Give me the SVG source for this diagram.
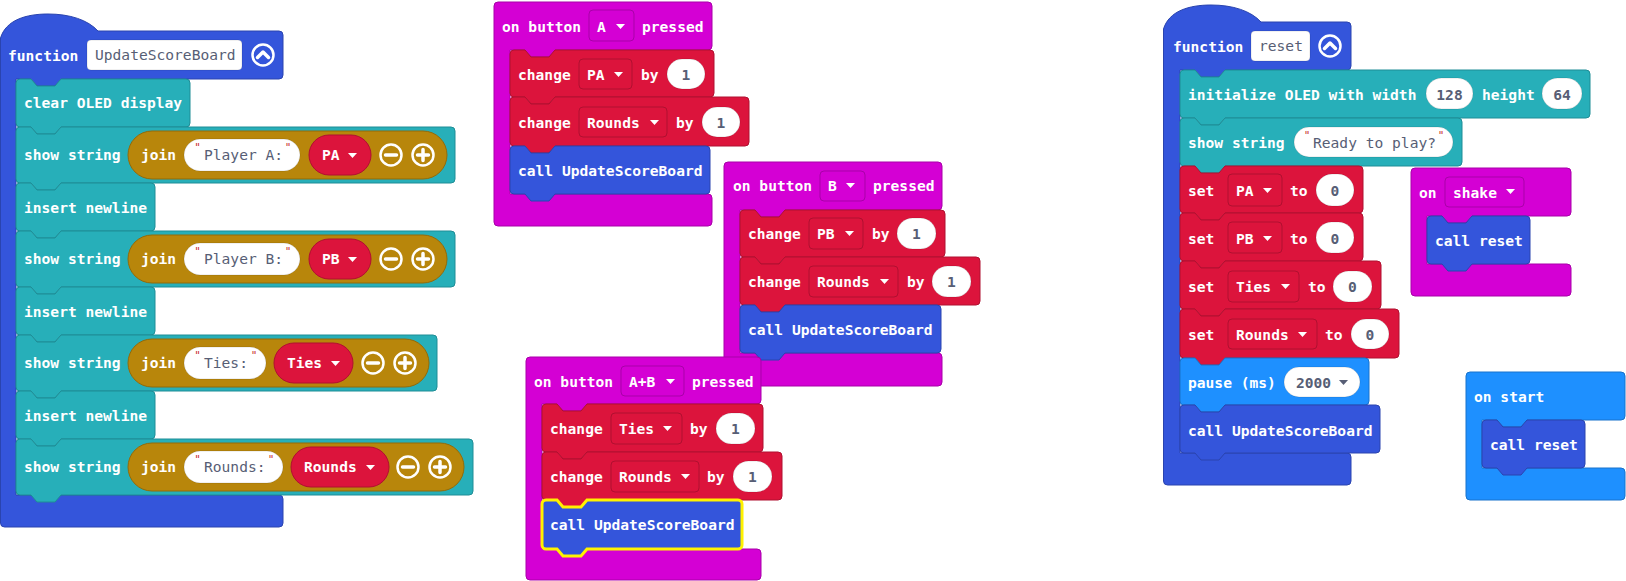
<svg xmlns="http://www.w3.org/2000/svg" width="1626" height="581" viewBox="0 0 1626 581">
<style>
text{font-family:"DejaVu Sans Mono","Liberation Mono",monospace;font-size:14.6px}
.t{fill:#fff;font-weight:bold}
.g{fill:#575E75}
.n{fill:#575E75;font-weight:bold}
.m{text-anchor:middle}
.q{font-family:"DejaVu Sans",sans-serif;font-size:11px;fill:#C8262E;text-anchor:middle}
.blue{fill:#3455DB;stroke:#2A44AF;stroke-width:1}
.teal{fill:#27AFB9;stroke:#1F8D96;stroke-width:1}
.red{fill:#DC143C;stroke:#B01030;stroke-width:1}
.mag{fill:#D400D4;stroke:#A900A9;stroke-width:1}
.lb{fill:#1E90FF;stroke:#1873CC;stroke-width:1}
.gold{fill:#B8860B;stroke:#936B09;stroke-width:1}
.w{fill:#fff;stroke:rgba(0,0,0,0.12);stroke-width:1}
.sel{fill:#3455DB;stroke:#FFF200;stroke-width:3}
.ic{fill:none;stroke:#fff;stroke-width:2.5}
.bar{fill:none;stroke:#fff;stroke-width:3.5;stroke-linecap:round;stroke-linejoin:round}
.tri{fill:#fff}
.trig{fill:#575E75}
</style>

<g id="fn-updatescoreboard">
<path class="blue" d="M0.5,38 C6,20 26,14 48,14 C70,14 88,20 98,31 H279 a4,4 0 0 1 4,4 V75 a4,4 0 0 1 -4,4 H61 l-6,7 h-18 l-6,-7 H16 V495 H279 a4,4 0 0 1 4,4 V523 a4,4 0 0 1 -4,4 H4.5 a4,4 0 0 1 -4,-4 Z"/>
<text class="t" x="8" y="61">function</text>
<rect class="w" x="87" y="40" width="155" height="30" rx="4"/>
<text class="g" x="95" y="60">UpdateScoreBoard</text>
<circle class="ic" cx="263" cy="55" r="10.5"/>
<path class="bar" d="M257.5,57.5 L263,52 L268.5,57.5"/>

<g id="clear-oled">
<path class="teal" d="M16,83 a4,4 0 0 1 4,-4 H31 l6,7 h18 l6,-7 H186 a4,4 0 0 1 4,4 V123 a4,4 0 0 1 -4,4 H61 l-6,7 h-18 l-6,-7 H20 a4,4 0 0 1 -4,-4 Z"/>
<text class="t" x="24" y="108">clear OLED display</text>
</g>

<g id="show-player-a">
<path class="teal" d="M16,131 a4,4 0 0 1 4,-4 H31 l6,7 h18 l6,-7 H451 a4,4 0 0 1 4,4 V179 a4,4 0 0 1 -4,4 H61 l-6,7 h-18 l-6,-7 H20 a4,4 0 0 1 -4,-4 Z"/>
<text class="t" x="24" y="160">show string</text>
<rect class="gold" x="128" y="131" width="319" height="48" rx="24"/>
<text class="t" x="141" y="160">join</text>
<rect class="w" x="184" y="139" width="116" height="32" rx="16"/>
<text class="q" x="197.5" y="151">"</text><text class="q" x="288" y="151">"</text>
<text class="g" x="204" y="160">Player A:</text>
<rect class="red" x="309" y="135" width="62" height="40" rx="20"/>
<text class="t" x="322" y="160">PA</text>
<path class="tri" d="M348,153 h9 l-4.5,5 z"/>
<circle class="ic" cx="391" cy="155" r="10.5"/><path class="bar" d="M385.5,155 H396.5"/>
<circle class="ic" cx="423" cy="155" r="10.5"/><path class="bar" d="M417.5,155 H428.5 M423,149.5 V160.5"/>
</g>

<g id="newline-1">
<path class="teal" d="M16,187 a4,4 0 0 1 4,-4 H31 l6,7 h18 l6,-7 H151 a4,4 0 0 1 4,4 V227 a4,4 0 0 1 -4,4 H61 l-6,7 h-18 l-6,-7 H20 a4,4 0 0 1 -4,-4 Z"/>
<text class="t" x="24" y="213">insert newline</text>
</g>

<g id="show-player-b">
<path class="teal" d="M16,235 a4,4 0 0 1 4,-4 H31 l6,7 h18 l6,-7 H451 a4,4 0 0 1 4,4 V283 a4,4 0 0 1 -4,4 H61 l-6,7 h-18 l-6,-7 H20 a4,4 0 0 1 -4,-4 Z"/>
<text class="t" x="24" y="264">show string</text>
<rect class="gold" x="128" y="235" width="319" height="48" rx="24"/>
<text class="t" x="141" y="264">join</text>
<rect class="w" x="184" y="243" width="116" height="32" rx="16"/>
<text class="q" x="197.5" y="255">"</text><text class="q" x="288" y="255">"</text>
<text class="g" x="204" y="264">Player B:</text>
<rect class="red" x="309" y="239" width="62" height="40" rx="20"/>
<text class="t" x="322" y="264">PB</text>
<path class="tri" d="M348,257 h9 l-4.5,5 z"/>
<circle class="ic" cx="391" cy="259" r="10.5"/><path class="bar" d="M385.5,259 H396.5"/>
<circle class="ic" cx="423" cy="259" r="10.5"/><path class="bar" d="M417.5,259 H428.5 M423,253.5 V264.5"/>
</g>

<g id="newline-2">
<path class="teal" d="M16,291 a4,4 0 0 1 4,-4 H31 l6,7 h18 l6,-7 H151 a4,4 0 0 1 4,4 V331 a4,4 0 0 1 -4,4 H61 l-6,7 h-18 l-6,-7 H20 a4,4 0 0 1 -4,-4 Z"/>
<text class="t" x="24" y="317">insert newline</text>
</g>

<g id="show-ties">
<path class="teal" d="M16,339 a4,4 0 0 1 4,-4 H31 l6,7 h18 l6,-7 H433 a4,4 0 0 1 4,4 V387 a4,4 0 0 1 -4,4 H61 l-6,7 h-18 l-6,-7 H20 a4,4 0 0 1 -4,-4 Z"/>
<text class="t" x="24" y="368">show string</text>
<rect class="gold" x="128" y="339" width="301" height="48" rx="24"/>
<text class="t" x="141" y="368">join</text>
<rect class="w" x="184" y="347" width="82" height="32" rx="16"/>
<text class="q" x="197.5" y="359">"</text><text class="q" x="254" y="359">"</text>
<text class="g" x="204" y="368">Ties:</text>
<rect class="red" x="274" y="343" width="79" height="40" rx="20"/>
<text class="t" x="287" y="368">Ties</text>
<path class="tri" d="M331,361 h9 l-4.5,5 z"/>
<circle class="ic" cx="373" cy="363" r="10.5"/><path class="bar" d="M367.5,363 H378.5"/>
<circle class="ic" cx="405" cy="363" r="10.5"/><path class="bar" d="M399.5,363 H410.5 M405,357.5 V368.5"/>
</g>

<g id="newline-3">
<path class="teal" d="M16,395 a4,4 0 0 1 4,-4 H31 l6,7 h18 l6,-7 H151 a4,4 0 0 1 4,4 V435 a4,4 0 0 1 -4,4 H61 l-6,7 h-18 l-6,-7 H20 a4,4 0 0 1 -4,-4 Z"/>
<text class="t" x="24" y="421">insert newline</text>
</g>

<g id="show-rounds">
<path class="teal" d="M16,443 a4,4 0 0 1 4,-4 H31 l6,7 h18 l6,-7 H469 a4,4 0 0 1 4,4 V491 a4,4 0 0 1 -4,4 H61 l-6,7 h-18 l-6,-7 H20 a4,4 0 0 1 -4,-4 Z"/>
<text class="t" x="24" y="472">show string</text>
<rect class="gold" x="128" y="443" width="336" height="48" rx="24"/>
<text class="t" x="141" y="472">join</text>
<rect class="w" x="184" y="451" width="99" height="32" rx="16"/>
<text class="q" x="197.5" y="463">"</text><text class="q" x="271" y="463">"</text>
<text class="g" x="204" y="472">Rounds:</text>
<rect class="red" x="291" y="447" width="98" height="40" rx="20"/>
<text class="t" x="304" y="472">Rounds</text>
<path class="tri" d="M366,465 h9 l-4.5,5 z"/>
<circle class="ic" cx="408" cy="467" r="10.5"/><path class="bar" d="M402.5,467 H413.5"/>
<circle class="ic" cx="440" cy="467" r="10.5"/><path class="bar" d="M434.5,467 H445.5 M440,461.5 V472.5"/>
</g>
</g>

<g id="on-button-a">
<path class="mag" d="M494,6 a4,4 0 0 1 4,-4 H708 a4,4 0 0 1 4,4 V46 a4,4 0 0 1 -4,4 H555 l-6,7 h-18 l-6,-7 H510 V194 H708 a4,4 0 0 1 4,4 V222 a4,4 0 0 1 -4,4 H498 a4,4 0 0 1 -4,-4 Z"/>
<text class="t" x="502" y="32">on button</text>
<rect class="mag" x="589" y="10" width="45" height="31" rx="4"/>
<text class="t" x="597" y="32">A</text>
<path class="tri" d="M616,24 h9 l-4.5,5 z"/>
<text class="t" x="642" y="32">pressed</text>
<g id="a-change-pa">
<path class="red" d="M510,54 a4,4 0 0 1 4,-4 H525 l6,7 h18 l6,-7 H710 a4,4 0 0 1 4,4 V93 a4,4 0 0 1 -4,4 H555 l-6,7 h-18 l-6,-7 H514 a4,4 0 0 1 -4,-4 Z"/>
<text class="t" x="518" y="80">change</text>
<rect class="red" x="579" y="59" width="53" height="30" rx="4"/>
<text class="t" x="587" y="80">PA</text>
<path class="tri" d="M614,72 h9 l-4.5,5 z"/>
<text class="t" x="641" y="80">by</text>
<rect class="w" x="667" y="59" width="38" height="30" rx="15"/>
<text class="n m" x="686" y="80">1</text>
</g>
<g id="a-change-rounds">
<path class="red" d="M510,101 a4,4 0 0 1 4,-4 H525 l6,7 h18 l6,-7 H745 a4,4 0 0 1 4,4 V142 a4,4 0 0 1 -4,4 H555 l-6,7 h-18 l-6,-7 H514 a4,4 0 0 1 -4,-4 Z"/>
<text class="t" x="518" y="128">change</text>
<rect class="red" x="579" y="107" width="88" height="30" rx="4"/>
<text class="t" x="587" y="128">Rounds</text>
<path class="tri" d="M650,120 h9 l-4.5,5 z"/>
<text class="t" x="676" y="128">by</text>
<rect class="w" x="702" y="107" width="38" height="30" rx="15"/>
<text class="n m" x="721" y="128">1</text>
</g>
<g id="a-call">
<path class="blue" d="M510,150 a4,4 0 0 1 4,-4 H525 l6,7 h18 l6,-7 H706 a4,4 0 0 1 4,4 V190 a4,4 0 0 1 -4,4 H555 l-6,7 h-18 l-6,-7 H514 a4,4 0 0 1 -4,-4 Z"/>
<text class="t" x="518" y="176">call UpdateScoreBoard</text>
</g>
</g>

<g id="on-button-b">
<path class="mag" d="M724,166 a4,4 0 0 1 4,-4 H938 a4,4 0 0 1 4,4 V206 a4,4 0 0 1 -4,4 H785 l-6,7 h-18 l-6,-7 H740 V353 H938 a4,4 0 0 1 4,4 V382 a4,4 0 0 1 -4,4 H728 a4,4 0 0 1 -4,-4 Z"/>
<text class="t" x="733" y="191">on button</text>
<rect class="mag" x="820" y="171" width="45" height="30" rx="4"/>
<text class="t" x="828" y="191">B</text>
<path class="tri" d="M846,183 h9 l-4.5,5 z"/>
<text class="t" x="873" y="191">pressed</text>
<g id="b-change-pb">
<path class="red" d="M740,214 a4,4 0 0 1 4,-4 H755 l6,7 h18 l6,-7 H941 a4,4 0 0 1 4,4 V253 a4,4 0 0 1 -4,4 H785 l-6,7 h-18 l-6,-7 H744 a4,4 0 0 1 -4,-4 Z"/>
<text class="t" x="748" y="239">change</text>
<rect class="red" x="809" y="218" width="54" height="31" rx="4"/>
<text class="t" x="817" y="239">PB</text>
<path class="tri" d="M845,231 h9 l-4.5,5 z"/>
<text class="t" x="872" y="239">by</text>
<rect class="w" x="897" y="218" width="39" height="31" rx="15.5"/>
<text class="n m" x="916.5" y="239">1</text>
</g>
<g id="b-change-rounds">
<path class="red" d="M740,261 a4,4 0 0 1 4,-4 H755 l6,7 h18 l6,-7 H976 a4,4 0 0 1 4,4 V301 a4,4 0 0 1 -4,4 H785 l-6,7 h-18 l-6,-7 H744 a4,4 0 0 1 -4,-4 Z"/>
<text class="t" x="748" y="287">change</text>
<rect class="red" x="809" y="266" width="89" height="31" rx="4"/>
<text class="t" x="817" y="287">Rounds</text>
<path class="tri" d="M880,279 h9 l-4.5,5 z"/>
<text class="t" x="907" y="287">by</text>
<rect class="w" x="932" y="266" width="39" height="31" rx="15.5"/>
<text class="n m" x="951.5" y="287">1</text>
</g>
<g id="b-call">
<path class="blue" d="M740,309 a4,4 0 0 1 4,-4 H755 l6,7 h18 l6,-7 H937 a4,4 0 0 1 4,4 V349 a4,4 0 0 1 -4,4 H785 l-6,7 h-18 l-6,-7 H744 a4,4 0 0 1 -4,-4 Z"/>
<text class="t" x="748" y="335">call UpdateScoreBoard</text>
</g>
</g>

<g id="on-button-ab">
<path class="mag" d="M526,361 a4,4 0 0 1 4,-4 H757 a4,4 0 0 1 4,4 V400 a4,4 0 0 1 -4,4 H587 l-6,7 h-18 l-6,-7 H542 V549 H757 a4,4 0 0 1 4,4 V576 a4,4 0 0 1 -4,4 H530 a4,4 0 0 1 -4,-4 Z"/>
<text class="t" x="534" y="387">on button</text>
<rect class="mag" x="621" y="366" width="63" height="30" rx="4"/>
<text class="t" x="629" y="387">A+B</text>
<path class="tri" d="M666,379 h9 l-4.5,5 z"/>
<text class="t" x="692" y="387">pressed</text>
<g id="ab-change-ties">
<path class="red" d="M542,408 a4,4 0 0 1 4,-4 H557 l6,7 h18 l6,-7 H759 a4,4 0 0 1 4,4 V448 a4,4 0 0 1 -4,4 H587 l-6,7 h-18 l-6,-7 H546 a4,4 0 0 1 -4,-4 Z"/>
<text class="t" x="550" y="434">change</text>
<rect class="red" x="611" y="413" width="71" height="31" rx="4"/>
<text class="t" x="619" y="434">Ties</text>
<path class="tri" d="M663,426 h9 l-4.5,5 z"/>
<text class="t" x="690" y="434">by</text>
<rect class="w" x="716" y="413" width="39" height="31" rx="15.5"/>
<text class="n m" x="735.5" y="434">1</text>
</g>
<g id="ab-change-rounds">
<path class="red" d="M542,456 a4,4 0 0 1 4,-4 H557 l6,7 h18 l6,-7 H778 a4,4 0 0 1 4,4 V496 a4,4 0 0 1 -4,4 H587 l-6,7 h-18 l-6,-7 H546 a4,4 0 0 1 -4,-4 Z"/>
<text class="t" x="550" y="482">change</text>
<rect class="red" x="611" y="461" width="88" height="31" rx="4"/>
<text class="t" x="619" y="482">Rounds</text>
<path class="tri" d="M681,474 h9 l-4.5,5 z"/>
<text class="t" x="707" y="482">by</text>
<rect class="w" x="733" y="461" width="39" height="31" rx="15.5"/>
<text class="n m" x="752.5" y="482">1</text>
</g>
<g id="ab-call">
<path class="sel" d="M542,504 a4,4 0 0 1 4,-4 H557 l6,7 h18 l6,-7 H738 a4,4 0 0 1 4,4 V545 a4,4 0 0 1 -4,4 H587 l-6,7 h-18 l-6,-7 H546 a4,4 0 0 1 -4,-4 Z"/>
<text class="t" x="550" y="530">call UpdateScoreBoard</text>
</g>
</g>

<g id="fn-reset">
<path class="blue" d="M1163.5,29 C1169,11 1189,5 1211,5 C1233,5 1251,11 1261,22 H1347 a4,4 0 0 1 4,4 V66 a4,4 0 0 1 -4,4 H1225 l-6,7 h-18 l-6,-7 H1180 V453 H1347 a4,4 0 0 1 4,4 V481 a4,4 0 0 1 -4,4 H1167.5 a4,4 0 0 1 -4,-4 Z"/>
<text class="t" x="1173" y="52">function</text>
<rect class="w" x="1251" y="31" width="59" height="30" rx="4"/>
<text class="g" x="1259" y="51">reset</text>
<circle class="ic" cx="1330" cy="46" r="10.5"/>
<path class="bar" d="M1324.5,48.5 L1330,43 L1335.5,48.5"/>
<g id="init-oled">
<path class="teal" d="M1180,74 a4,4 0 0 1 4,-4 H1195 l6,7 h18 l6,-7 H1586 a4,4 0 0 1 4,4 V114 a4,4 0 0 1 -4,4 H1225 l-6,7 h-18 l-6,-7 H1184 a4,4 0 0 1 -4,-4 Z"/>
<text class="t" x="1188" y="100">initialize OLED with width</text>
<rect class="w" x="1426" y="78" width="47" height="31" rx="15.5"/>
<text class="n m" x="1449.5" y="100">128</text>
<text class="t" x="1482" y="100">height</text>
<rect class="w" x="1542" y="78" width="40" height="31" rx="15.5"/>
<text class="n m" x="1562" y="100">64</text>
</g>
<g id="show-ready">
<path class="teal" d="M1180,122 a4,4 0 0 1 4,-4 H1195 l6,7 h18 l6,-7 H1458 a4,4 0 0 1 4,4 V162 a4,4 0 0 1 -4,4 H1225 l-6,7 h-18 l-6,-7 H1184 a4,4 0 0 1 -4,-4 Z"/>
<text class="t" x="1188" y="148">show string</text>
<rect class="w" x="1294" y="127" width="159" height="30" rx="15"/>
<text class="q" x="1307" y="139">"</text><text class="q" x="1441" y="139">"</text>
<text class="g" x="1313" y="148">Ready to play?</text>
</g>
<g id="set-pa">
<path class="red" d="M1180,170 a4,4 0 0 1 4,-4 H1195 l6,7 h18 l6,-7 H1359 a4,4 0 0 1 4,4 V209 a4,4 0 0 1 -4,4 H1225 l-6,7 h-18 l-6,-7 H1184 a4,4 0 0 1 -4,-4 Z"/>
<text class="t" x="1188" y="196">set</text>
<rect class="red" x="1228" y="174" width="54" height="32" rx="4"/>
<text class="t" x="1236" y="196">PA</text>
<path class="tri" d="M1263,188 h9 l-4.5,5 z"/>
<text class="t" x="1290" y="196">to</text>
<rect class="w" x="1316" y="174" width="38" height="32" rx="16"/>
<text class="n m" x="1335" y="196">0</text>
</g>
<g id="set-pb">
<path class="red" d="M1180,217 a4,4 0 0 1 4,-4 H1195 l6,7 h18 l6,-7 H1359 a4,4 0 0 1 4,4 V257 a4,4 0 0 1 -4,4 H1225 l-6,7 h-18 l-6,-7 H1184 a4,4 0 0 1 -4,-4 Z"/>
<text class="t" x="1188" y="244">set</text>
<rect class="red" x="1228" y="222" width="54" height="31" rx="4"/>
<text class="t" x="1236" y="244">PB</text>
<path class="tri" d="M1263,236 h9 l-4.5,5 z"/>
<text class="t" x="1290" y="244">to</text>
<rect class="w" x="1316" y="222" width="38" height="31" rx="15.5"/>
<text class="n m" x="1335" y="244">0</text>
</g>
<g id="set-ties">
<path class="red" d="M1180,265 a4,4 0 0 1 4,-4 H1195 l6,7 h18 l6,-7 H1377 a4,4 0 0 1 4,4 V305 a4,4 0 0 1 -4,4 H1225 l-6,7 h-18 l-6,-7 H1184 a4,4 0 0 1 -4,-4 Z"/>
<text class="t" x="1188" y="292">set</text>
<rect class="red" x="1228" y="271" width="71" height="31" rx="4"/>
<text class="t" x="1236" y="292">Ties</text>
<path class="tri" d="M1281,284 h9 l-4.5,5 z"/>
<text class="t" x="1308" y="292">to</text>
<rect class="w" x="1333" y="271" width="39" height="31" rx="15.5"/>
<text class="n m" x="1352.5" y="292">0</text>
</g>
<g id="set-rounds">
<path class="red" d="M1180,313 a4,4 0 0 1 4,-4 H1195 l6,7 h18 l6,-7 H1395 a4,4 0 0 1 4,4 V354 a4,4 0 0 1 -4,4 H1225 l-6,7 h-18 l-6,-7 H1184 a4,4 0 0 1 -4,-4 Z"/>
<text class="t" x="1188" y="340">set</text>
<rect class="red" x="1228" y="319" width="89" height="30" rx="4"/>
<text class="t" x="1236" y="340">Rounds</text>
<path class="tri" d="M1298,332 h9 l-4.5,5 z"/>
<text class="t" x="1325" y="340">to</text>
<rect class="w" x="1351" y="319" width="38" height="30" rx="15"/>
<text class="n m" x="1370" y="340">0</text>
</g>
<g id="pause">
<path class="lb" d="M1180,362 a4,4 0 0 1 4,-4 H1195 l6,7 h18 l6,-7 H1365 a4,4 0 0 1 4,4 V401 a4,4 0 0 1 -4,4 H1225 l-6,7 h-18 l-6,-7 H1184 a4,4 0 0 1 -4,-4 Z"/>
<text class="t" x="1188" y="388">pause (ms)</text>
<rect class="w" x="1284" y="367" width="76" height="30" rx="15"/>
<text class="n" x="1296" y="388">2000</text>
<path class="trig" d="M1339,380 h9 l-4.5,5 z"/>
</g>
<g id="reset-call">
<path class="blue" d="M1180,409 a4,4 0 0 1 4,-4 H1195 l6,7 h18 l6,-7 H1376 a4,4 0 0 1 4,4 V449 a4,4 0 0 1 -4,4 H1225 l-6,7 h-18 l-6,-7 H1184 a4,4 0 0 1 -4,-4 Z"/>
<text class="t" x="1188" y="436">call UpdateScoreBoard</text>
</g>
</g>

<g id="on-shake">
<path class="mag" d="M1411,172 a4,4 0 0 1 4,-4 H1567 a4,4 0 0 1 4,4 V212 a4,4 0 0 1 -4,4 H1472 l-6,7 h-18 l-6,-7 H1427 V264 H1567 a4,4 0 0 1 4,4 V292 a4,4 0 0 1 -4,4 H1415 a4,4 0 0 1 -4,-4 Z"/>
<text class="t" x="1419" y="198">on</text>
<rect class="mag" x="1445" y="177" width="79" height="30" rx="4"/>
<text class="t" x="1453" y="198">shake</text>
<path class="tri" d="M1506,189 h9 l-4.5,5 z"/>
<g id="shake-call">
<path class="blue" d="M1427,220 a4,4 0 0 1 4,-4 H1442 l6,7 h18 l6,-7 H1526 a4,4 0 0 1 4,4 V260 a4,4 0 0 1 -4,4 H1472 l-6,7 h-18 l-6,-7 H1431 a4,4 0 0 1 -4,-4 Z"/>
<text class="t" x="1435" y="246">call reset</text>
</g>
</g>

<g id="on-start">
<path class="lb" d="M1466,376 a4,4 0 0 1 4,-4 H1621 a4,4 0 0 1 4,4 V416 a4,4 0 0 1 -4,4 H1527 l-6,7 h-18 l-6,-7 H1482 V468 H1621 a4,4 0 0 1 4,4 V496 a4,4 0 0 1 -4,4 H1470 a4,4 0 0 1 -4,-4 Z"/>
<text class="t" x="1474" y="402">on start</text>
<g id="start-call">
<path class="blue" d="M1482,424 a4,4 0 0 1 4,-4 H1497 l6,7 h18 l6,-7 H1581 a4,4 0 0 1 4,4 V464 a4,4 0 0 1 -4,4 H1527 l-6,7 h-18 l-6,-7 H1486 a4,4 0 0 1 -4,-4 Z"/>
<text class="t" x="1490" y="450">call reset</text>
</g>
</g>

<g id="connectors"/>
</svg>
